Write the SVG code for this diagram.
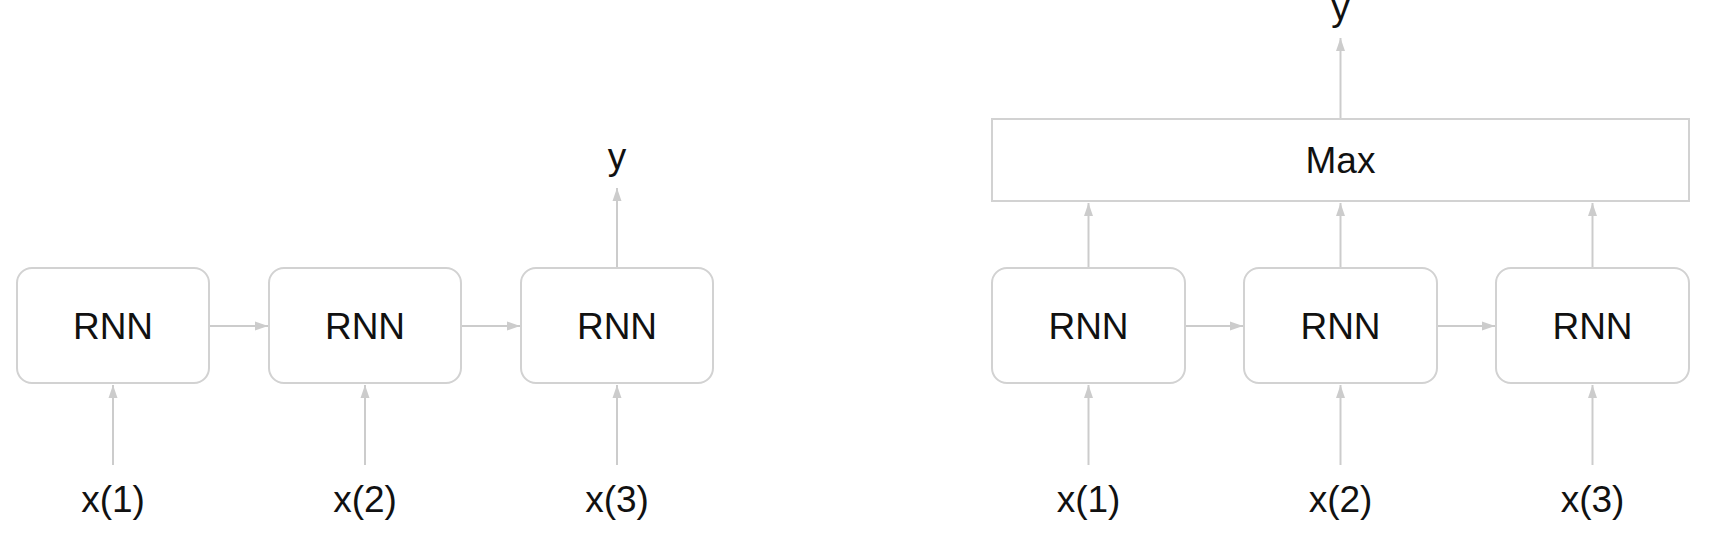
<svg xmlns="http://www.w3.org/2000/svg" width="1732" height="556" viewBox="0 0 1732 556">
<style>
.box{fill:#fff;stroke:#d2d2d2;stroke-width:2}
.lbl{font-family:"Liberation Sans",Arial,sans-serif;font-size:37px;fill:#111;text-anchor:middle}
.conn{stroke:#cccccc;stroke-width:2;fill:none;marker-end:url(#ah)}
</style>
<defs>
<marker id="ah" markerUnits="userSpaceOnUse" markerWidth="14" markerHeight="10" refX="13" refY="5" orient="auto">
<path d="M0,0.5 L13,5 L0,9.5 Z" fill="#cccccc"/>
</marker>
</defs>
<rect width="1732" height="556" fill="#fff"/>
<g id="connectors">
<line class="conn" x1="113" y1="465" x2="113" y2="385"/>
<line class="conn" x1="365" y1="465" x2="365" y2="385"/>
<line class="conn" x1="617" y1="465" x2="617" y2="385"/>
<line class="conn" x1="209" y1="326" x2="268" y2="326"/>
<line class="conn" x1="461" y1="326" x2="520" y2="326"/>
<line class="conn" x1="617" y1="268" x2="617" y2="188"/>
<line class="conn" x1="1088.5" y1="465" x2="1088.5" y2="385"/>
<line class="conn" x1="1340.5" y1="465" x2="1340.5" y2="385"/>
<line class="conn" x1="1592.5" y1="465" x2="1592.5" y2="385"/>
<line class="conn" x1="1185" y1="326" x2="1243" y2="326"/>
<line class="conn" x1="1437" y1="326" x2="1495" y2="326"/>
<line class="conn" x1="1088.5" y1="268" x2="1088.5" y2="203"/>
<line class="conn" x1="1340.5" y1="268" x2="1340.5" y2="203"/>
<line class="conn" x1="1592.5" y1="268" x2="1592.5" y2="203"/>
<line class="conn" x1="1340.5" y1="119" x2="1340.5" y2="38"/>
</g>
<g id="rnn-l1"><rect class="box" x="17" y="268" width="192" height="115" rx="15"/><text class="lbl" x="113" y="339">RNN</text></g>
<g id="rnn-l2"><rect class="box" x="269" y="268" width="192" height="115" rx="15"/><text class="lbl" x="365" y="339">RNN</text></g>
<g id="rnn-l3"><rect class="box" x="521" y="268" width="192" height="115" rx="15"/><text class="lbl" x="617" y="339">RNN</text></g>
<g id="xl1"><text class="lbl" x="113" y="512">x(1)</text></g>
<g id="xl2"><text class="lbl" x="365" y="512">x(2)</text></g>
<g id="xl3"><text class="lbl" x="617" y="512">x(3)</text></g>
<g id="yl"><text class="lbl" x="617" y="169">y</text></g>
<g id="rnn-r1"><rect class="box" x="992" y="268" width="193" height="115" rx="15"/><text class="lbl" x="1088.5" y="339">RNN</text></g>
<g id="rnn-r2"><rect class="box" x="1244" y="268" width="193" height="115" rx="15"/><text class="lbl" x="1340.5" y="339">RNN</text></g>
<g id="rnn-r3"><rect class="box" x="1496" y="268" width="193" height="115" rx="15"/><text class="lbl" x="1592.5" y="339">RNN</text></g>
<g id="max"><rect class="box" x="992" y="119" width="697" height="82"/><text class="lbl" x="1340.5" y="173">Max</text></g>
<g id="xr1"><text class="lbl" x="1088.5" y="512">x(1)</text></g>
<g id="xr2"><text class="lbl" x="1340.5" y="512">x(2)</text></g>
<g id="xr3"><text class="lbl" x="1592.5" y="512">x(3)</text></g>
<g id="yr"><text class="lbl" x="1340.5" y="20">y</text></g>
</svg>
